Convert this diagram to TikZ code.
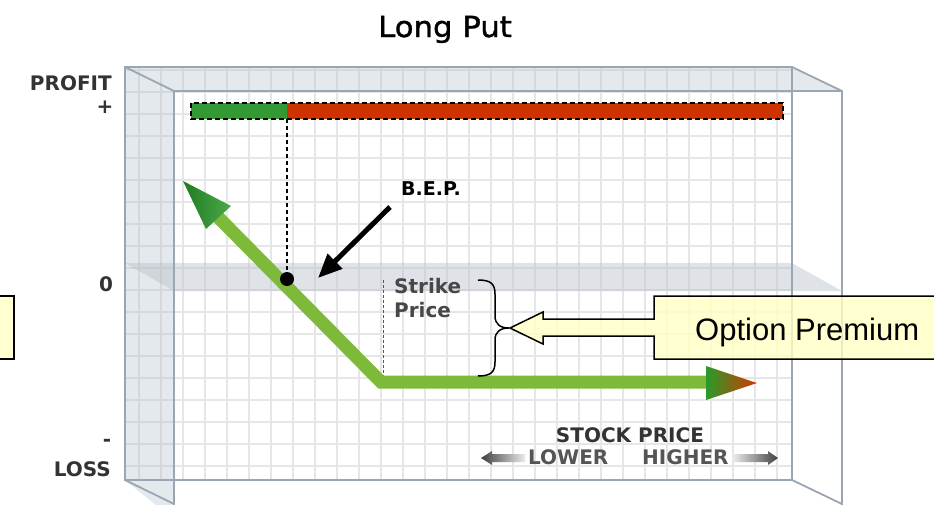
\documentclass[tikz,border=0pt]{standalone}
\usepackage{fontspec}
\setmainfont{DejaVu Sans}
\newfontfamily\arialfont{Liberation Sans}
\newfontfamily\titlefont{DejaVu Sans}[FakeBold=1.2, FakeStretch=1.06]
\usetikzlibrary{arrows.meta}
\definecolor{gridc}{HTML}{E6E6E6}
\definecolor{wallc}{HTML}{B4C0CC}
\definecolor{planec}{HTML}{B4BCC6}
\definecolor{edgec}{HTML}{9AA6B2}
\definecolor{barGreen}{HTML}{339933}
\definecolor{barRed}{HTML}{CC3300}
\definecolor{payGreen}{HTML}{7DBA3A}
\definecolor{headGreen}{HTML}{2A9A2A}
\definecolor{headRed}{HTML}{D03A00}
\definecolor{calloutc}{HTML}{FFFFC4}
\definecolor{lblc}{HTML}{333333}
\definecolor{lblc2}{HTML}{555555}
\tikzset{
  gridline/.style={draw=gridc, line width=1.6pt},
  boxedge/.style={draw=edgec, line width=1.8pt},
  wall/.style={fill=wallc, fill opacity=0.35},
  zeroplane/.style={fill=planec, fill opacity=0.42},
  payoff/.style={draw=payGreen, line width=13pt, line join=miter},
  callout/.style={draw=black, line width=1.5pt, fill=calloutc, fill opacity=0.8},
  axislbl/.style={font=\bfseries\fontsize{20}{24}\selectfont, text=lblc, inner sep=0pt},
  smalllbl/.style={font=\bfseries\fontsize{20}{24}\selectfont, text=lblc2, inner sep=0pt},
  titlelbl/.style={font=\titlefont\fontsize{29}{34}\selectfont, text=black, inner sep=0pt},
  premlbl/.style={font=\arialfont\fontsize{31}{36}\selectfont, text=black, inner sep=0pt},
  bepArrow/.style={draw=black, line width=5pt, -{Triangle[length=24pt,width=20pt]}},
}
\begin{document}
\begin{tikzpicture}[x=1pt,y=-1pt]
\useasboundingbox (0,0) rectangle (934,504);
\fill[white] (0,0) rectangle (934,504);
\clip (0,0) rectangle (934,504);

% grid on back face
\foreach \i in {0,...,29} \draw[gridline] ({139+22*\i},67) -- ({139+22*\i},480);
\foreach \j in {0,...,18} \draw[gridline] (125,{70+22*\j}) -- (792,{70+22*\j});

% walls
\fill[wall] (125,67) -- (174,91) -- (174,520) -- (125,480) -- cycle;
\fill[wall] (125,67) -- (792,67) -- (842,91) -- (174,91) -- cycle;

% zero plane
\fill[zeroplane] (125,263) -- (792,263) -- (842,291) -- (174,291) -- cycle;

% box edges
\draw[boxedge] (125,67) rectangle (792,480);
\draw[boxedge] (174,520) -- (174,91) -- (842,91) -- (842,520);
\draw[boxedge] (125,67) -- (174,91);
\draw[boxedge] (792,67) -- (842,91);
\draw[boxedge] (125,480) -- (174,504);
\draw[boxedge] (792,480) -- (842,504);

% key points
\coordinate (barL) at (191,103);
\coordinate (barSplit) at (287,103);
\coordinate (barSplitB) at (287,119);
\coordinate (barR) at (783,119);
\coordinate (bep) at (287,279);
\coordinate (kink) at (381,382);
\coordinate (leftEnd) at (214,213);
\coordinate (rightEnd) at (712,382);
\coordinate (strikeTop) at (383,280);
\coordinate (strikeBot) at (383,376);
\coordinate (bepTail) at (390,207);
\coordinate (bepTip) at (318,278);

% profit/loss bar
\fill[barGreen] (barL) rectangle (barSplitB);
\fill[barRed] (barSplit) rectangle (barR);
\draw[black, line width=1.5pt, dash pattern=on 5pt off 3pt] (barL) rectangle (barR);

% dashed guides
\draw[black, line width=1.2pt, dash pattern=on 4pt off 3pt] (barSplitB) -- (bep);
\draw[lblc2, line width=1pt, dash pattern=on 3pt off 2pt] (strikeTop) -- (strikeBot);

% payoff line
\draw[payoff] (leftEnd) -- (kink) -- (rightEnd);
\shade[left color=headGreen!80!black, right color=headGreen!85!white] (183,181) -- (231,206) -- (206,229) -- cycle;
\shade[left color=headGreen, right color=headRed] (706,366) -- (757,383) -- (706,400) -- cycle;

% BEP dot and arrow
\fill[black] (bep) circle (7);
\draw[bepArrow] (bepTail) -- (bepTip);

% brace
\draw[black, line width=1.5pt] (478,280) .. controls (491,280) and (495,284) .. (495,294) -- (495,316) .. controls (495,324) and (500,328) .. (509,328) .. controls (500,328) and (495,332) .. (495,340) -- (495,362) .. controls (495,372) and (491,376) .. (478,376);

% callouts
\draw[callout] (945,296) -- (654,296) -- (654,319) -- (543,319) -- (543,312) -- (510,328) -- (543,344) -- (543,336) -- (654,336) -- (654,359) -- (945,359) -- cycle;
\draw[callout] (-10,296) rectangle (14,359);

% stock price arrows
\shade[left color=black!75, right color=black!8] (481,458) -- (492,451) -- (492,454) -- (525,454) -- (525,462) -- (492,462) -- (492,465) -- cycle;
\shade[left color=black!8, right color=black!75] (733,454) -- (768,454) -- (768,451) -- (778,458) -- (768,465) -- (768,462) -- (733,462) -- cycle;

% texts
\node[titlelbl, anchor=base] (title) at (445,37) {Long Put};
\node[axislbl, anchor=base east] (profit) at (112,90) {PROFIT};
\node[axislbl] (plus) at (105,107) {+};
\node[axislbl] (zero) at (106,284) {0};
\node[axislbl] (minus) at (107,443) {-};
\node[axislbl, anchor=base east] (loss) at (111,476) {LOSS};
\node[axislbl, text=black, anchor=base west, font=\bfseries\fontsize{19}{23}\selectfont] (beplbl) at (401,195) {B.E.P.};
\node[smalllbl, text=lblc!90!white, anchor=base west] (strike) at (394,293) {Strike};
\node[smalllbl, text=lblc!90!white, anchor=base west] (price) at (394,317) {Price};
\node[axislbl, anchor=base] (stock) at (630,442) {STOCK PRICE};
\node[smalllbl, anchor=base west] (lower) at (528,464) {LOWER};
\node[smalllbl, anchor=base west] (higher) at (642,464) {HIGHER};
\node[premlbl, anchor=base west] (prem) at (695,340) {Option Premium};
\end{tikzpicture}
\end{document}
